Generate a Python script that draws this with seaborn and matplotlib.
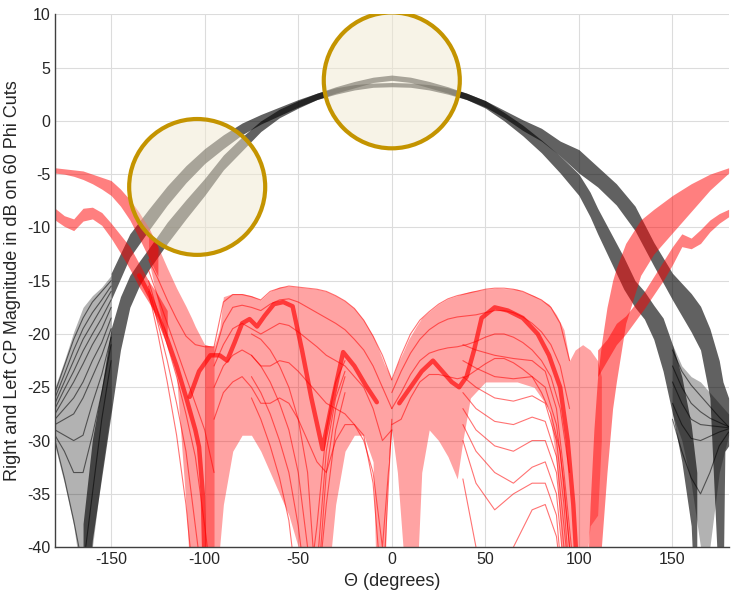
import numpy as np
import pandas as pd
import matplotlib
matplotlib.use('Agg')
import matplotlib.pyplot as plt
from matplotlib.patches import Ellipse
import seaborn as sns

# ---------------- black cuts (co-pol), drawn as translucent bands ----------------
black_a_theta = [-150, -140, -130, -120, -110, -100, -90, -80, -70, -60, -50, -40, -30, -20, -10, 0,
                 10, 20, 30, 40, 50, 60, 70, 80, 90, 100, 110, 120, 130, 140, 150, 160, 165, 170, 175, 177, 178, 180]
black_a_lo = [-16.8, -12.8, -10.3, -7.9, -5.8, -4.0, -2.6, -1.3, -0.3, 0.5, 1.3, 2.0, 2.6, 3.1, 3.6, 3.8,
              3.6, 3.1, 2.6, 2.0, 1.3, 0.3, -0.9, -1.9, -3.3, -4.9, -6.2, -7.9, -10.3, -13.6, -16.8, -19.8, -21.5, -26.0, -45, -45, -31.0, -30.5]
black_a_hi = [-14.3, -10.6, -8.3, -6.1, -4.2, -2.6, -1.3, -0.2, 0.6, 1.3, 2.0, 2.6, 3.2, 3.7, 4.1, 4.3,
              4.1, 3.7, 3.2, 2.6, 1.9, 1.0, 0.1, -0.7, -1.9, -2.7, -4.3, -5.9, -8.0, -11.4, -14.3, -16.2, -17.4, -19.5, -22.5, -24.5, -25.0, -26.0]

black_b_theta = [-165, -160, -155, -150, -145, -140, -135, -130, -120, -110, -100, -90, -80, -70, -60, -50, -40, -30, -20, -10, 0,
                 10, 20, 30, 40, 50, 60, 70, 80, 90, 100, 106, 110, 117, 124, 130, 135, 140, 145, 150, 155, 160, 163]
black_b_lo = [-50, -39.3, -33.4, -27.5, -21.5, -17.5, -15.5, -14.0, -11.5, -9.2, -7.0, -4.6, -2.8, -1.0, 0.3, 1.2, 2.0, 2.5, 2.9, 3.15, 3.2,
              3.15, 2.9, 2.5, 2.0, 1.2, 0.0, -1.4, -3.0, -4.9, -7.0, -9.0, -10.6, -13.2, -15.8, -17.5, -18.6, -20.5, -23.5, -27.5, -32.0, -38.0, -50]
black_b_hi = [-37.8, -29.9, -25.0, -19.5, -16.5, -14.5, -13.2, -12.0, -9.5, -7.4, -5.4, -3.2, -1.5, 0.0, 1.1, 1.9, 2.6, 3.1, 3.4, 3.55, 3.6,
              3.55, 3.4, 3.1, 2.6, 1.9, 0.8, -0.4, -1.8, -3.3, -5.0, -6.7, -8.2, -10.5, -12.8, -15.0, -16.0, -17.3, -18.5, -21.0, -24.0, -28.5, -33.0]

black_fan_l_theta = [-180, -175, -170, -165, -160, -155, -150]
black_fan_l_lo = [-30.5, -34.0, -38.0, -44.0, -40.0, -33.0, -27.0]
black_fan_l_hi = [-25.0, -22.5, -19.8, -17.5, -16.4, -15.6, -14.5]
black_fan_l_cuts = [
    [-25.5, -23.0, -20.5, -18.5, -17.0, -16.0, -15.0],
    [-26.0, -23.8, -21.5, -19.5, -18.0, -16.8, -15.5],
    [-26.5, -24.5, -22.5, -20.5, -19.0, -17.5, -16.0],
    [-27.0, -25.2, -23.5, -21.6, -20.0, -18.5, -16.8],
    [-27.5, -26.0, -24.5, -22.8, -21.0, -19.5, -17.5],
    [-28.0, -27.0, -26.0, -24.5, -22.5, -20.8, -18.5],
    [-28.5, -28.0, -27.5, -26.0, -24.0, -22.0, -19.5],
    [-29.0, -29.5, -30.0, -29.5, -26.5, -23.8, -20.3],
    [-29.5, -31.0, -33.0, -33.0, -29.5, -25.5, -21.0],
    [-30.0, -33.5, -37.5, -42.0, -35.0, -28.0, -22.5],
]

black_fan_r_theta = [150, 155, 160, 165, 170, 175, 180]
black_fan_r_lo = [-27.5, -30.0, -34.0, -40.0, -40.0, -33.0, -29.5]
black_fan_r_hi = [-21.0, -23.0, -24.0, -24.5, -25.5, -26.5, -27.5]
black_fan_r_cuts = [
    [-21.5, -23.5, -24.8, -25.8, -26.8, -27.8, -28.7],
    [-23.0, -25.0, -26.5, -27.3, -27.9, -28.3, -28.7],
    [-24.5, -26.5, -28.0, -28.5, -28.6, -28.7, -28.8],
    [-26.5, -28.5, -29.8, -30.0, -29.6, -29.2, -28.9],
    [-28.0, -31.0, -33.5, -35.0, -33.0, -30.5, -29.2],
]

# ---------------- red cuts (cross-pol) ----------------
red_1l_theta = [-180, -175, -170, -165, -160, -155, -150, -145, -140, -135, -130, -125]
red_1l_lo = [-4.9, -5.0, -5.2, -5.5, -5.9, -6.4, -7.0, -8.0, -9.3, -11.0, -12.8, -14.6]
red_1l_hi = [-4.4, -4.5, -4.6, -4.7, -5.0, -5.3, -5.6, -6.4, -7.4, -8.6, -10.0, -11.8]

red_2l_theta = [-180, -175, -170, -165, -160, -155, -150, -145, -140, -135, -130, -125, -120]
red_2l_lo = [-9.3, -9.9, -10.3, -9.4, -9.2, -9.8, -11.0, -12.4, -13.9, -15.6, -17.0, -18.5, -20.5]
red_2l_hi = [-8.2, -8.9, -9.2, -8.2, -8.1, -8.6, -9.6, -10.7, -11.8, -13.4, -15.0, -16.3, -17.8]

red_1r_theta = [104, 106, 108, 110, 112, 115, 118, 120, 125, 133, 140, 150, 160, 170, 180]
red_1r_lo = [-45, -45, -45, -45, -40.0, -33.0, -27.0, -24.5, -19.0, -14.5, -12.5, -10.5, -8.5, -6.5, -4.9]
red_1r_hi = [-45, -36, -29.0, -24.0, -21.0, -17.5, -15.0, -13.8, -11.5, -9.3, -8.3, -7.0, -5.9, -5.0, -4.4]

red_2r_theta = [110, 115, 120, 125, 130, 135, 140, 145, 150, 155, 160, 165, 170, 175, 180]
red_2r_lo = [-24.0, -22.5, -21.0, -20.0, -18.8, -17.6, -16.3, -15.0, -13.5, -11.8, -12.0, -11.5, -10.4, -9.6, -9.0]
red_2r_hi = [-21.5, -20.5, -19.0, -18.3, -17.2, -16.0, -14.6, -13.2, -11.8, -10.6, -11.0, -10.2, -9.3, -8.7, -8.3]

red_fan_l_theta = [-130, -125, -120, -115, -110, -107, -105, -100, -95]
red_fan_l_lo = [-13.0, -17.0, -21.0, -24.0, -36.0, -45, -45, -45, -45]
red_fan_l_hi = [-10.0, -11.8, -13.8, -15.7, -17.4, -18.5, -19.3, -21.0, -21.2]

red_in_l_theta = [-100, -95, -92, -90, -85, -80, -75, -70, -65, -60, -55, -50, -45, -40, -35,
                  -30, -25, -20, -15, -10, -8, -4, -2, 0]
red_in_l_lo = [-45, -45, -40, -36, -31, -29.5, -29.5, -31, -33, -35, -37, -40, -45, -45, -45,
               -36, -31, -29.5, -29.5, -32, -45, -45, -32, -29]
red_in_l_hi = [-21.0, -21.2, -19.5, -16.5, -16.2, -16.2, -16.4, -16.8, -16.0, -15.6, -15.5, -15.6, -15.7, -15.8, -16.0,
               -16.4, -16.9, -17.6, -18.7, -20.2, -21.0, -22.8, -23.5, -24.3]

red_in_r_theta = [0, 3, 6, 9, 13, 16, 20, 25, 30, 35, 38, 42, 50, 56, 67, 76, 84, 88, 92, 95, 98, 102, 106, 110, 112]
red_in_r_lo = [-29, -33, -40, -45, -45, -33, -29, -30, -31.5, -33.6, -30, -26, -24.5, -24.5, -24.5, -25, -27, -32, -45, -45, -45, -45, -38, -37, -30]
red_in_r_hi = [-24.3, -22.8, -21.7, -20.5, -19.3, -18.5, -17.9, -17.2, -16.7, -16.4, -16.2, -16.0, -15.8, -15.7, -15.8, -16.4, -17.2, -18.2, -19.6, -22.5, -21.5, -21.0, -21.5, -22.5, -24.0]

# dense ridges where many cuts pile up
ridge_l_theta = [-135, -129, -120, -115, -110, -105, -103, -101, -100]
ridge_l_db = [-14.5, -16.5, -20.5, -23.0, -25.9, -29.0, -30.6, -35.0, -42.0]
ridge_m_theta = [-108, -103, -97, -92, -88, -84, -80, -76, -72, -68, -63, -58, -53, -48, -43, -37, -32, -26, -20, -14, -8]
ridge_m_db = [-25.9, -23.5, -22.0, -22.0, -22.5, -20.8, -19.0, -18.6, -19.3, -18.3, -17.2, -17.0, -17.4, -21.5, -26.0, -30.8, -26.5, -21.7, -23.0, -24.8, -26.4]
ridge_r_theta = [4, 10, 16, 22, 27, 32, 36, 40, 44, 48, 55, 62, 70, 78, 84, 90, 94, 97, 99]
ridge_r_db = [-26.5, -25.0, -23.5, -22.5, -23.5, -24.5, -25.0, -24.0, -21.5, -18.5, -17.5, -17.8, -18.5, -20.0, -22.0, -25.0, -30.0, -36.0, -42.0]

# individual cuts that stay visible
red_fan_cut_theta = [-130, -125, -120, -115, -110, -105, -100, -95]
red_fan_cuts = [
    [-13.0, -14.8, -16.8, -18.6, -20.2, -21.0, -21.2, -21.2],
    [-14.0, -16.5, -19.0, -21.5, -24.0, -26.5, -29.0, -33.0],
    [-15.0, -18.0, -21.0, -24.0, -27.5, -31.5, -38.0, -45.0],
    [-15.5, -19.0, -22.5, -26.5, -31.0, -38.0, -45.0, -45.0],
    [-16.0, -20.0, -24.5, -29.5, -36.0, -45.0, -45.0, -45.0],
]
red_arc_l_theta = [-95, -90, -85, -80, -75, -70, -65, -60, -55, -50, -45, -40, -35, -30, -25, -20, -15, -10, -5, 0]
red_arc_l_cuts = [
    [-21.2, -17.0, -16.3, -16.3, -16.5, -16.8, -16.0, -15.7, -15.5, -15.6, -15.7, -15.8, -16.0, -16.4, -16.9, -17.6, -18.7, -20.2, -22.0, -24.3],
    [-22.0, -19.0, -17.5, -17.3, -17.5, -17.8, -17.2, -16.8, -16.7, -17.0, -17.5, -18.0, -18.5, -19.0, -19.6, -20.5, -21.5, -23.0, -25.0, -27.0],
    [-23.0, -21.0, -19.5, -19.0, -19.5, -20.0, -19.5, -19.0, -19.2, -19.8, -20.5, -21.2, -22.0, -22.5, -23.0, -24.0, -25.0, -27.0, -30.0, -29.0],
    [-25.0, -23.0, -22.0, -21.5, -22.0, -23.0, -23.0, -22.5, -22.7, -23.5, -24.5, -25.5, -26.5, -27.0, -27.5, -28.5, -30.0, -33.0, -40.0, -29.0],
    [-28.0, -25.5, -24.5, -24.0, -25.0, -26.5, -26.5, -26.0, -26.5, -28.0, -30.0, -32.0, -33.0, -30.0, -28.5, -28.5, -29.5, -34.0, -45.0, -28.0],
]
red_arc_r_theta = [0, 5, 10, 15, 20, 25, 30, 35, 40, 45, 50, 55, 60, 65, 70, 75, 80, 85, 90, 95]
red_arc_r_cuts = [
    [-24.3, -22.0, -20.0, -18.7, -17.9, -17.2, -16.7, -16.4, -16.2, -16.0, -15.8, -15.7, -15.7, -15.8, -16.0, -16.4, -16.8, -17.5, -19.0, -22.5],
    [-25.5, -23.5, -21.8, -20.5, -19.6, -19.0, -18.6, -18.4, -18.3, -18.2, -18.0, -17.8, -17.8, -18.0, -18.4, -19.0, -19.8, -21.0, -23.0, -27.0],
    [-27.0, -25.5, -23.8, -22.5, -21.8, -21.5, -21.3, -21.2, -21.0, -20.7, -20.3, -20.0, -20.0, -20.3, -20.8, -21.5, -22.5, -24.0, -27.0, -33.0],
    [-28.5, -28.0, -26.0, -24.5, -23.8, -23.8, -24.0, -24.2, -24.0, -23.4, -22.8, -22.3, -22.3, -22.7, -23.3, -24.0, -25.5, -27.5, -31.0, -40.0],
]
red_v_theta = [-75, -70, -65, -60, -55, -50, -45, -40, -35, -30, -25]
red_v_cuts = [
    [-20.0, -20.5, -21.5, -23.0, -25.0, -28.0, -33.0, -45.0, -33.0, -27.0, -24.0],
    [-22.0, -23.0, -24.5, -26.5, -29.0, -33.0, -40.0, -45.0, -36.0, -29.0, -25.5],
    [-24.0, -25.5, -27.5, -30.0, -33.0, -38.0, -45.0, -42.0, -31.0, -26.0, -23.5],
    [-26.0, -28.0, -30.5, -33.5, -37.5, -45.0, -45.0, -38.0, -29.0, -24.5, -22.5],
]
red_sparse_theta = [38, 45, 55, 65, 75, 82, 88, 92, 96]
red_sparse_cuts = [
    [-21.0, -21.5, -22.0, -22.3, -22.5, -23.5, -27.0, -33.0, -40.0],
    [-22.5, -23.2, -24.0, -24.2, -24.0, -25.0, -28.5, -34.0, -42.0],
    [-24.0, -25.0, -26.0, -26.3, -25.8, -26.5, -30.0, -36.0, -45.0],
    [-25.5, -27.0, -28.2, -28.5, -27.8, -28.2, -31.5, -38.0, -45.0],
    [-27.0, -29.0, -30.5, -31.0, -30.0, -30.0, -33.0, -40.0, -45.0],
    [-28.5, -31.0, -33.0, -34.0, -32.5, -32.0, -35.0, -42.0, -45.0],
    [-30.0, -34.0, -36.5, -35.0, -34.0, -34.0, -37.0, -45.0, -45.0],
    [-33.6, -40.0, -45.0, -40.0, -36.5, -36.0, -39.0, -45.0, -45.0],
]

# highlight circles: centre theta, centre dB
circle_theta = [-104, 0]
circle_db = [-6.2, 3.8]


def cuts_frame(theta, rows):
    return pd.DataFrame([{'theta': t, 'dB': v, 'cut': i}
                         for i, r in enumerate(rows) for t, v in zip(theta, r)])


sns.set_style('whitegrid')
plt.rcParams['font.family'] = ['Liberation Sans', 'DejaVu Sans']
plt.rcParams['axes.unicode_minus'] = False

fig = plt.figure(figsize=(7.33, 5.96), dpi=100)
ax = fig.add_axes([0.075, 0.082, 0.919, 0.894])

# black bands
for th, lo, hi, a in [(black_a_theta, black_a_lo, black_a_hi, 0.62),
                      (black_b_theta, black_b_lo, black_b_hi, 0.62),
                      (black_fan_l_theta, black_fan_l_lo, black_fan_l_hi, 0.3),
                      (black_fan_r_theta, black_fan_r_lo, black_fan_r_hi, 0.3)]:
    ax.fill_between(th, lo, hi, color='black', alpha=a, lw=0)

# red bands
for th, lo, hi, a in [(red_1l_theta, red_1l_lo, red_1l_hi, 0.5),
                      (red_2l_theta, red_2l_lo, red_2l_hi, 0.5),
                      (red_1r_theta, red_1r_lo, red_1r_hi, 0.5),
                      (red_2r_theta, red_2r_lo, red_2r_hi, 0.5),
                      (red_fan_l_theta, red_fan_l_lo, red_fan_l_hi, 0.38),
                      (red_in_l_theta, red_in_l_lo, red_in_l_hi, 0.36),
                      (red_in_r_theta, red_in_r_lo, red_in_r_hi, 0.36)]:
    ax.fill_between(th, lo, hi, color='red', alpha=a, lw=0)

# thin individual cuts
for th, rows, col in [(black_fan_l_theta, black_fan_l_cuts, 'black'),
                      (black_fan_r_theta, black_fan_r_cuts, 'black'),
                      (red_fan_cut_theta, red_fan_cuts, 'red'),
                      (red_arc_l_theta, red_arc_l_cuts, 'red'),
                      (red_arc_r_theta, red_arc_r_cuts, 'red'),
                      (red_v_theta, red_v_cuts, 'red'),
                      (red_sparse_theta, red_sparse_cuts, 'red')]:
    sns.lineplot(data=cuts_frame(th, rows), x='theta', y='dB', units='cut', estimator=None,
                 color=col, lw=0.8, alpha=0.55, ax=ax, legend=False)

# dense ridges
for th, db in [(ridge_l_theta, ridge_l_db), (ridge_m_theta, ridge_m_db), (ridge_r_theta, ridge_r_db)]:
    sns.lineplot(x=th, y=db, color='red', lw=3.2, alpha=0.65, ax=ax, sort=False)

for cx, cy in zip(circle_theta, circle_db):
    ax.add_patch(Ellipse((cx, cy), 72.7, 12.75, facecolor=(0.94, 0.91, 0.82, 0.5),
                         edgecolor='#C49400', lw=3, zorder=10))

ax.set_xlim(-180, 180)
ax.set_ylim(-40, 10)
ax.set_xticks([-150, -100, -50, 0, 50, 100, 150])
ax.set_yticks(np.arange(-40, 11, 5))
ax.grid(True, color='#DCDCDC', lw=0.8)
ax.set_axisbelow(True)
for s in ['top', 'right']:
    ax.spines[s].set_visible(False)
for s in ['left', 'bottom']:
    ax.spines[s].set_color('#404040')
    ax.spines[s].set_linewidth(1.0)
ax.tick_params(direction='in', length=5, width=0.8, color='#404040', labelsize=11.5, labelcolor='#262626')
ax.set_xlabel('\u0398 (degrees)', fontsize=13, color='#262626')
ax.set_ylabel('Right and Left CP Magnitude in dB on 60 Phi Cuts', fontsize=13, color='#262626')

fig.savefig('out.png', dpi=100)
